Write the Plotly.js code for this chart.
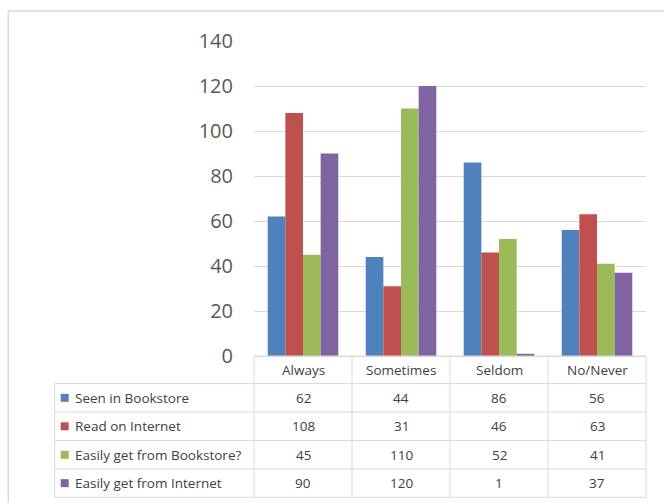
<!DOCTYPE html>
<html>
<head>
<meta charset="utf-8">
<script src="https://cdn.plot.ly/plotly-3.0.1.min.js"></script>
<style>
  html, body { margin: 0; padding: 0; background: #ffffff; }
  #chart { width: 664px; height: 503px; }
</style>
</head>
<body>
<div id="chart"></div>
<script>
// ---- data ----
var categories = ['Always', 'Sometimes', 'Seldom', 'No/Never'];
var seriesNames = ['Seen in Bookstore', 'Read on Internet', 'Easily get from Bookstore?', 'Easily get from Internet'];
var seenInBookstore = [62, 44, 86, 56];
var readOnInternet = [108, 31, 46, 63];
var easilyGetFromBookstore = [45, 110, 52, 41];
var easilyGetFromInternet = [90, 120, 1, 37];
var yTickValues = [0, 20, 40, 60, 80, 100, 120, 140];

// ---- styling ----
var seriesValues = [seenInBookstore, readOnInternet, easilyGetFromBookstore, easilyGetFromInternet];
var colors = ['#4F81BD', '#C0504D', '#9BBB59', '#8064A2'];
var FONT = 'Open Sans, Noto Sans, Liberation Sans, sans-serif';
var gridColor = '#d9d9d9';
var textColor = '#404040';

var traces = seriesNames.map(function (name, i) {
  return {
    type: 'bar',
    name: name,
    x: categories,
    y: seriesValues[i],
    marker: { color: colors[i], line: { width: 0 } },
    hoverinfo: 'x+y+name'
  };
});

// plot area in pixels: left 254, right 646, top 40.7, bottom 355.7
var plotTop = 40.7, plotBottom = 355.7, plotLeft = 254, plotRight = 646;
var plotH = plotBottom - plotTop, plotW = plotRight - plotLeft;
function py(p) { return (plotBottom - p) / plotH; }   // pixel y -> paper y
function px(p) { return (p - plotLeft) / plotW; }      // pixel x -> paper x

var headerTop = py(355.7);
var rowLines = [383.3, 411.7, 440.3, 468.7, 497].map(py);
var headerCenter = py(369.5);
var tableLeft = px(54.7);

var shapes = [];
var annotations = [];

// outer chart border
shapes.push({
  type: 'rect', xref: 'paper', yref: 'paper',
  x0: px(8.3), x1: 1.2, y0: py(10.7), y1: -0.7,
  line: { color: '#d9d9d9', width: 1.5 }, fillcolor: 'rgba(0,0,0,0)', layer: 'below'
});

// table horizontal lines
shapes.push({ type: 'line', xref: 'x domain', yref: 'paper', x0: 0, x1: 1, y0: headerTop, y1: headerTop, line: { color: gridColor, width: 1 } });
rowLines.forEach(function (y) {
  shapes.push({ type: 'line', xref: 'paper', yref: 'paper', x0: tableLeft, x1: 1, y0: y, y1: y, line: { color: gridColor, width: 1 } });
});
// table vertical lines
shapes.push({ type: 'line', xref: 'paper', yref: 'paper', x0: tableLeft, x1: tableLeft, y0: rowLines[0], y1: rowLines[rowLines.length - 1], line: { color: gridColor, width: 1 } });
shapes.push({ type: 'line', xref: 'x domain', yref: 'paper', x0: 0, x1: 0, y0: headerTop, y1: rowLines[rowLines.length - 1], line: { color: gridColor, width: 1 } });
shapes.push({ type: 'line', xref: 'x domain', yref: 'paper', x0: 1, x1: 1, y0: headerTop, y1: rowLines[rowLines.length - 1], line: { color: gridColor, width: 1 } });
for (var c = 1; c < categories.length; c++) {
  shapes.push({ type: 'line', xref: 'x', yref: 'paper', x0: c - 0.5, x1: c - 0.5, y0: headerTop, y1: rowLines[rowLines.length - 1], line: { color: gridColor, width: 1 } });
}

// category header labels
categories.forEach(function (cat) {
  annotations.push({
    xref: 'x', yref: 'paper', x: cat, y: headerCenter, text: cat, showarrow: false,
    xanchor: 'center', yanchor: 'middle', font: { family: FONT, size: 13.5, color: textColor }
  });
});

// series rows: key, label, values
seriesNames.forEach(function (name, i) {
  var yc = (rowLines[i] + rowLines[i + 1]) / 2;
  var half = 4 / plotH;
  shapes.push({
    type: 'rect', xref: 'paper', yref: 'paper',
    x0: px(60.7), x1: px(68.7), y0: yc - half, y1: yc + half,
    fillcolor: colors[i], line: { width: 0 }
  });
  annotations.push({
    xref: 'paper', yref: 'paper', x: px(73), y: yc, text: name, showarrow: false,
    xanchor: 'left', yanchor: 'middle', font: { family: FONT, size: 13.5, color: textColor }
  });
  categories.forEach(function (cat, j) {
    annotations.push({
      xref: 'x', yref: 'paper', x: cat, y: yc, text: String(seriesValues[i][j]), showarrow: false,
      xanchor: 'center', yanchor: 'middle', font: { family: FONT, size: 13.5, color: textColor }
    });
  });
});

var layout = {
  width: 664,
  height: 503,
  margin: { l: plotLeft, r: 664 - plotRight, t: plotTop, b: 503 - plotBottom, pad: 0 },
  paper_bgcolor: '#ffffff',
  plot_bgcolor: '#ffffff',
  showlegend: false,
  barmode: 'group',
  bargap: 0.28,
  bargroupgap: 0,
  xaxis: {
    type: 'category',
    categoryorder: 'array',
    categoryarray: categories,
    range: [-0.5, categories.length - 0.5],
    showticklabels: false,
    showgrid: false,
    zeroline: false,
    showline: false,
    ticks: ''
  },
  yaxis: {
    range: [0, 140],
    tickvals: yTickValues,
    ticktext: yTickValues.map(String),
    showgrid: true,
    gridcolor: gridColor,
    gridwidth: 1,
    zeroline: true,
    zerolinecolor: gridColor,
    zerolinewidth: 1,
    showline: false,
    ticks: '',
    ticklabelstandoff: 20,
    tickfont: { family: FONT, size: 20, color: '#595959' }
  },
  shapes: shapes,
  annotations: annotations,
  font: { family: FONT, color: textColor }
};

Plotly.newPlot('chart', traces, layout, { displayModeBar: false, staticPlot: true });
</script>
</body>
</html>
